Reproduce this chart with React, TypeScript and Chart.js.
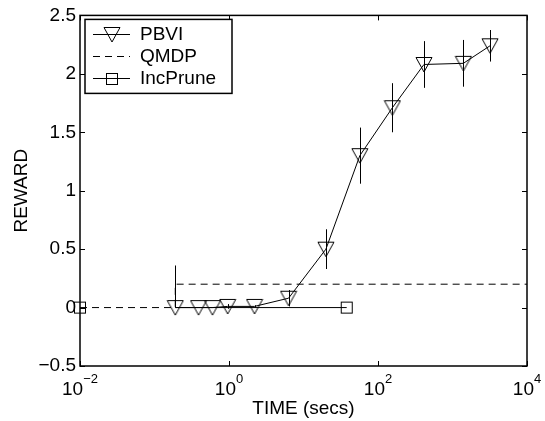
import React, { useEffect, useRef } from 'react';
import { Chart, registerables } from 'chart.js';

Chart.register(...registerables);

// ---- data ----
const pbviLabel = 'PBVI';
const pbviTime = [0.19, 0.39, 0.6, 0.96, 2.2, 6.3, 20, 57, 156, 414, 1400, 3190];
const pbviReward = [0, 0, 0, 0.01, 0.01, 0.08, 0.5, 1.3, 1.71, 2.08, 2.09, 2.24];
const pbviErrUp = [0.36, 0, 0, 0.02, 0.01, 0.07, 0.17, 0.24, 0.21, 0.2, 0.2, 0.135];
const pbviErrDown = [0, 0, 0, 0.02, 0.01, 0.07, 0.17, 0.24, 0.21, 0.2, 0.2, 0.135];

const qmdpLabel = 'QMDP';
const qmdpTime = [0.01, 0.19, 0.19, 10000];
const qmdpReward = [0, 0, 0.2, 0.2];

const incPruneLabel = 'IncPrune';
const incPruneTime = [0.01, 0.19, 38];
const incPruneReward = [0, 0, 0];
const incPruneMarked = [true, false, true];
const incPruneSegmentDrawn = [false, true];

const xTickExponents = [-2, 0, 2, 4];
const yTicks = [-0.5, 0, 0.5, 1, 1.5, 2, 2.5];
const xTitle = 'TIME (secs)';
const yTitle = 'REWARD';

// ---- styling ----
const FAMILY = '"Liberation Sans", Arial, Helvetica, sans-serif';
const FS = 19;
const ES = 13;

function makeTriangle(): HTMLCanvasElement {
  const c = document.createElement('canvas');
  c.width = 18;
  c.height = 17;
  const g = c.getContext('2d')!;
  g.strokeStyle = '#000';
  g.lineWidth = 1;
  g.beginPath();
  g.moveTo(1, 1.5);
  g.lineTo(17, 1.5);
  g.lineTo(9, 16);
  g.closePath();
  g.stroke();
  return c;
}

function makeSquare(): HTMLCanvasElement {
  const c = document.createElement('canvas');
  c.width = 14;
  c.height = 14;
  const g = c.getContext('2d')!;
  g.strokeStyle = '#000';
  g.lineWidth = 1;
  g.strokeRect(1.5, 1.5, 11, 11);
  return c;
}

const fmtY = (v: number) => (v < 0 ? '\u2212' + Math.abs(v) : String(v));

export default function App() {
  const ref = useRef<HTMLCanvasElement | null>(null);

  useEffect(() => {
    if (!ref.current) return;
    const tri = makeTriangle();
    const sq = makeSquare();

    const errorBars = {
      id: 'errorBars',
      afterDatasetsDraw(chart: any) {
        const { ctx, scales } = chart;
        const xs = scales.x;
        const ys = scales.y;
        ctx.save();
        ctx.strokeStyle = '#000';
        ctx.lineWidth = 1;
        ctx.beginPath();
        pbviTime.forEach((t, i) => {
          if (pbviErrUp[i] <= 0 && pbviErrDown[i] <= 0) return;
          const px = Math.round(xs.getPixelForValue(t)) + 0.5;
          ctx.moveTo(px, ys.getPixelForValue(pbviReward[i] + pbviErrUp[i]));
          ctx.lineTo(px, ys.getPixelForValue(pbviReward[i] - pbviErrDown[i]));
        });
        ctx.stroke();
        ctx.restore();
      },
    };

    const matlabAxes = {
      id: 'matlabAxes',
      afterDraw(chart: any) {
        const { ctx, chartArea: a, scales } = chart;
        const xs = scales.x;
        const ys = scales.y;
        ctx.save();
        ctx.strokeStyle = '#000';
        ctx.fillStyle = '#000';
        // inward ticks on all four sides
        ctx.lineWidth = 1;
        ctx.beginPath();
        xTickExponents.forEach((e) => {
          const px = Math.round(xs.getPixelForValue(Math.pow(10, e))) + 0.5;
          ctx.moveTo(px, a.bottom);
          ctx.lineTo(px, a.bottom - 5);
          ctx.moveTo(px, a.top);
          ctx.lineTo(px, a.top + 5);
        });
        yTicks.forEach((v) => {
          const py = Math.round(ys.getPixelForValue(v)) + 0.5;
          ctx.moveTo(a.left, py);
          ctx.lineTo(a.left + 5, py);
          ctx.moveTo(a.right, py);
          ctx.lineTo(a.right - 5, py);
        });
        ctx.stroke();
        // box
        ctx.lineWidth = 1.5;
        ctx.strokeRect(a.left, a.top, a.right - a.left, a.bottom - a.top);

        // x tick labels with superscript exponents
        ctx.textAlign = 'left';
        ctx.textBaseline = 'alphabetic';
        xTickExponents.forEach((e) => {
          const px = xs.getPixelForValue(Math.pow(10, e));
          const base = '10';
          const exp = e < 0 ? '\u2212' + Math.abs(e) : String(e);
          ctx.font = `${FS}px ${FAMILY}`;
          const wb = ctx.measureText(base).width;
          ctx.font = `${ES}px ${FAMILY}`;
          const we = ctx.measureText(exp).width;
          const start = px - (wb + we) / 2;
          ctx.font = `${FS}px ${FAMILY}`;
          ctx.fillText(base, start, a.bottom + 29);
          ctx.font = `${ES}px ${FAMILY}`;
          ctx.fillText(exp, start + wb, a.bottom + 16.5);
        });

        // legend box
        const bx = a.left + 5;
        const by = a.top + 4;
        const bw = 147;
        const bh = 74;
        ctx.fillStyle = '#fff';
        ctx.fillRect(bx, by, bw, bh);
        ctx.lineWidth = 1.5;
        ctx.strokeStyle = '#000';
        ctx.strokeRect(bx, by, bw, bh);
        const ds = chart.data.datasets;
        const icons = [tri, null, sq];
        ds.forEach((d: any, i: number) => {
          const y = Math.round(by + 15 + i * 22) + 0.5;
          ctx.save();
          ctx.lineWidth = 1;
          ctx.strokeStyle = '#000';
          if (d.borderDash) ctx.setLineDash(d.borderDash);
          ctx.beginPath();
          ctx.moveTo(bx + 8, y);
          ctx.lineTo(bx + 45, y);
          ctx.stroke();
          ctx.restore();
          const icon = icons[i];
          if (icon) {
            ctx.drawImage(icon, Math.round(bx + 26.5 - icon.width / 2), Math.round(y - icon.height / 2));
          }
          ctx.fillStyle = '#000';
          ctx.font = `${FS}px ${FAMILY}`;
          ctx.textBaseline = 'middle';
          ctx.textAlign = 'left';
          ctx.fillText(d.label, bx + 55, y);
        });
        ctx.restore();
      },
    };

    const chart = new Chart(ref.current, {
      type: 'scatter',
      data: {
        datasets: [
          {
            label: pbviLabel,
            data: pbviTime.map((t, i) => ({ x: t, y: pbviReward[i] })),
            showLine: true,
            borderColor: '#000',
            borderWidth: 1,
            backgroundColor: 'transparent',
            pointStyle: tri as any,
            pointRadius: 8,
            tension: 0,
          },
          {
            label: qmdpLabel,
            data: qmdpTime.map((t, i) => ({ x: t, y: qmdpReward[i] })),
            showLine: true,
            borderColor: '#000',
            borderWidth: 1,
            borderDash: [7, 5],
            pointRadius: 0,
            tension: 0,
          },
          {
            label: incPruneLabel,
            data: incPruneTime.map((t, i) => ({ x: t, y: incPruneReward[i] })),
            showLine: true,
            borderColor: '#000',
            borderWidth: 1,
            backgroundColor: 'transparent',
            pointStyle: sq as any,
            pointRadius: (c: any) => (incPruneMarked[c.dataIndex] ? 6 : 0),
            segment: {
              borderColor: (c: any) => (incPruneSegmentDrawn[c.p0DataIndex] ? '#000' : 'rgba(0,0,0,0)'),
            },
            clip: false as any,
            tension: 0,
          },
        ] as any,
      },
      options: {
        responsive: false,
        animation: false,
        events: [],
        layout: { padding: { left: 0, right: 18, top: 13, bottom: 0 } },
        plugins: { legend: { display: false }, tooltip: { enabled: false } },
        scales: {
          x: {
            type: 'logarithmic',
            min: 0.01,
            max: 10000,
            grid: { display: false, drawTicks: false },
            border: { display: false },
            ticks: { display: false },
            afterBuildTicks: (s: any) => {
              s.ticks = xTickExponents.map((e) => ({ value: Math.pow(10, e) }));
            },
            afterFit: (s: any) => {
              s.height = 55;
            },
            title: {
              display: true,
              text: xTitle,
              color: '#000',
              font: { family: FAMILY, size: FS },
              padding: { top: 0, bottom: 1 },
            },
          },
          y: {
            type: 'linear',
            min: -0.5,
            max: 2.5,
            grid: { display: false, drawTicks: false },
            border: { display: false },
            afterBuildTicks: (s: any) => {
              s.ticks = yTicks.map((v) => ({ value: v }));
            },
            ticks: {
              color: '#000',
              font: { family: FAMILY, size: FS },
              padding: 4,
              callback: (v: any) => fmtY(Number(v)),
            },
            afterFit: (s: any) => {
              s.width = 80;
            },
            title: {
              display: true,
              text: yTitle,
              color: '#000',
              font: { family: FAMILY, size: FS },
              padding: { top: 10, bottom: 0 },
            },
          },
        },
      } as any,
      plugins: [errorBars, matlabAxes],
    });
    return () => chart.destroy();
  }, []);

  return (
    <div style={{ position: 'fixed', left: 0, top: 0, width: 545, height: 421, background: '#fff' }}>
      <canvas ref={ref} width={545} height={421} style={{ display: 'block' }} />
    </div>
  );
}
